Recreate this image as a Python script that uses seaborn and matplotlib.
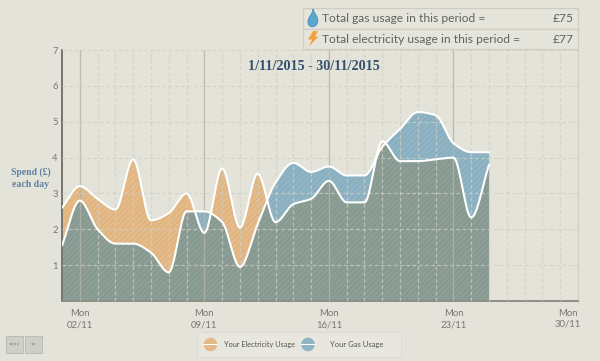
import numpy as np
import pandas as pd
import matplotlib
matplotlib.use('Agg')
import matplotlib.pyplot as plt
import seaborn as sns
from matplotlib.patches import Circle, PathPatch, Polygon, Rectangle
from matplotlib.path import Path

# values, one per day
days = list(range(1, 26))
electricity = [2.6, 3.2, 2.85, 2.55, 3.95, 2.25, 2.45, 3.0, 1.9, 3.7, 2.05, 3.55, 2.2,
               2.7, 2.85, 3.35, 2.75, 2.75, 4.45, 3.9, 3.9, 3.95, 4.0, 2.33, 3.8]
gas = [1.55, 2.8, 2.0, 1.6, 1.6, 1.35, 0.8, 2.5, 2.5, 2.2, 0.95, 2.15, 3.3,
       3.85, 3.6, 3.75, 3.5, 3.5, 4.3, 4.8, 5.27, 5.18, 4.4, 4.15, 4.15]
tick_days = [2, 9, 16, 23, 30]
tick_labels = ['Mon\n02/11', 'Mon\n09/11', 'Mon\n16/11', 'Mon\n23/11', 'Mon\n30/11']
y_ticks = [1, 2, 3, 4, 5, 6, 7]

BG = '#E4E3D9'
ORANGE = '#E3BA88'
BLUE = '#8FB4C4'
OVERLAP = '#8C9E95'
NAVY = '#34506F'
SLATE = '#5F80A0'
GREY = '#777770'

sns.set_theme(style='white', rc={'figure.facecolor': BG, 'axes.facecolor': BG,
                                 'hatch.linewidth': 0.5})
plt.rcParams['font.family'] = ['Lato', 'DejaVu Sans']


def smooth(x, y, per_day=24):
    # monotone cubic, so the curve peaks on the daily values like the original
    x = np.asarray(x, float)
    y = np.asarray(y, float)
    d = np.diff(y) / np.diff(x)
    m = np.zeros_like(y)
    m[0], m[-1] = d[0], d[-1]
    for i in range(1, len(y) - 1):
        if d[i - 1] * d[i] > 0:
            m[i] = 2 * d[i - 1] * d[i] / (d[i - 1] + d[i])
    xs = np.linspace(x[0], x[-1], (len(x) - 1) * per_day + 1)
    i = np.clip(np.searchsorted(x, xs, side='right') - 1, 0, len(x) - 2)
    t = xs - x[i]
    ys = (y[i] * (2 * t**3 - 3 * t**2 + 1) + m[i] * (t**3 - 2 * t**2 + t)
          + y[i + 1] * (-2 * t**3 + 3 * t**2) + m[i + 1] * (t**3 - t**2))
    return xs, ys


xs, elec_curve = smooth(days, electricity)
_, gas_curve = smooth(days, gas)
curves = pd.DataFrame({'day': xs, 'electricity': elec_curve, 'gas': gas_curve})

fig = plt.figure(figsize=(6, 3.61), dpi=100)
ax = fig.add_axes([62 / 600, 60 / 361, 516 / 600, 251 / 361])

ax.fill_between(xs, 0, elec_curve, facecolor=ORANGE, edgecolor='#DBAE78', hatch='//////', linewidth=0, zorder=2)
ax.fill_between(xs, 0, gas_curve, facecolor=BLUE, edgecolor='#82A9BA', hatch='//////', linewidth=0, zorder=2)
ax.fill_between(xs, 0, np.minimum(elec_curve, gas_curve), facecolor=OVERLAP, edgecolor='#80938A',
                hatch='//////', linewidth=0, zorder=2)

ax.set_xlim(1, 30)
ax.set_ylim(0, 7)

# daily dashed grid runs over the fills, the weekly lines are solid
for d in range(2, 31):
    if d in tick_days[:-1]:
        ax.axvline(d, color='#B4B4A9', lw=1.0, alpha=0.8, zorder=3)
    else:
        ax.axvline(d, color='#CFCFC4', lw=0.9, alpha=0.75, ls=(0, (3, 2)), zorder=3)
for v in y_ticks:
    ax.axhline(v, color='#CFCFC4', lw=0.9, alpha=0.75, ls=(0, (3, 2)), zorder=3)

sns.lineplot(data=curves, x='day', y='electricity', color='white', lw=1.5, ax=ax, zorder=4, legend=False)
sns.lineplot(data=curves, x='day', y='gas', color='white', lw=1.5, ax=ax, zorder=4, legend=False)

ax.set_xticks(tick_days[:-1])
ax.set_xticklabels(tick_labels[:-1], fontsize=6.8, color=GREY, linespacing=1.25)
ax.set_yticks(y_ticks)
ax.set_yticklabels(y_ticks, fontsize=6.8, color=GREY)
ax.tick_params(axis='x', length=0, pad=6)
ax.tick_params(axis='y', length=0, pad=3)
ax.set_xlabel('')
ax.set_ylabel('')
for side in ['top']:
    ax.spines[side].set_visible(False)
ax.spines['right'].set_color('#D0D0C5')
ax.spines['right'].set_linewidth(0.8)
ax.spines['left'].set_color('#77776F')
ax.spines['left'].set_linewidth(1.4)
ax.spines['left'].set_linestyle((0, (1, 0.6)))
ax.spines['bottom'].set_color('#8E8E86')
ax.spines['bottom'].set_linewidth(1.4)

# page furniture around the chart, in pixel coordinates
page = fig.add_axes([0, 0, 1, 1], zorder=5)
page.set_xlim(0, 600)
page.set_ylim(361, 0)
page.axis('off')
page.patch.set_alpha(0)

page.text(568, 319, tick_labels[-1], ha='center', va='center', fontsize=6.8, color=GREY, linespacing=1.25)
page.text(314, 66.5, '1/11/2015 - 30/11/2015', ha='center', va='center', fontsize=10.2,
          color=NAVY, fontweight='bold', family=['Liberation Serif', 'DejaVu Serif'])
page.text(30.5, 178, 'Spend (£)\neach day', ha='center', va='center', fontsize=7, color=SLATE,
          fontweight='bold', family=['Liberation Serif', 'DejaVu Serif'], linespacing=1.35)

# totals box
for top in [8, 28.5]:
    page.add_patch(Rectangle((303, top), 275, 20.5, fc='#E6E5DC', ec='#CDCDC3', lw=0.9))
page.text(322, 18.5, 'Total gas usage in this period =', va='center', fontsize=8.65, color='#62625F')
page.text(322, 39.5, 'Total electricity usage in this period =', va='center', fontsize=8.65, color='#62625F')
page.text(574, 18.5, '£75', ha='right', va='center', fontsize=8.65, color='#62625F')
page.text(574, 39.5, '£77', ha='right', va='center', fontsize=8.65, color='#62625F')
flame = Path([(313, 9), (314, 14), (319, 17), (317.5, 22), (316.5, 28.5), (307.5, 28.5), (308, 21.5),
              (308.5, 16), (312.5, 15), (313, 9)],
             [Path.MOVETO, Path.CURVE4, Path.CURVE4, Path.CURVE4, Path.CURVE4, Path.CURVE4, Path.CURVE4,
              Path.CURVE4, Path.CURVE4, Path.CURVE4])
page.add_patch(PathPatch(flame, fc='#5BA7CF', ec='#3F8FBD', lw=0.6))
page.add_patch(Polygon([(313, 31), (318, 31), (315, 36.5), (318.5, 36.5), (309, 46.5), (312, 39.5), (308, 39.5)],
                       fc='#F2A23A', ec='none'))

# legend
page.add_patch(Rectangle((197, 332), 204, 25, fc='#E8E7DF', ec='#DCDCD2', lw=0.8))
for cx, colour in [(210.5, ORANGE), (308, BLUE)]:
    page.add_patch(Circle((cx, 344.5), 6.8, fc=colour, ec='none'))
    page.add_patch(Rectangle((cx - 7.5, 344), 15, 1.2, fc='white', ec='none'))
page.text(224, 344.5, 'Your Electricity Usage', va='center', fontsize=5.3, color='#55554F')
page.text(330, 344.5, 'Your Gas Usage', va='center', fontsize=5.5, color='#55554F')

# paging buttons
for left, w, label in [(6, 17, '<<<<'), (25, 16.5, '<<')]:
    page.add_patch(Rectangle((left, 336), w, 16.5, fc='#CFCFC9', ec='#BDBDB6', lw=0.7))
    page.text(left + w / 2, 344.2, label, ha='center', va='center', fontsize=3.6, color='#66665F')

fig.savefig('out.png', dpi=100, facecolor=BG)
